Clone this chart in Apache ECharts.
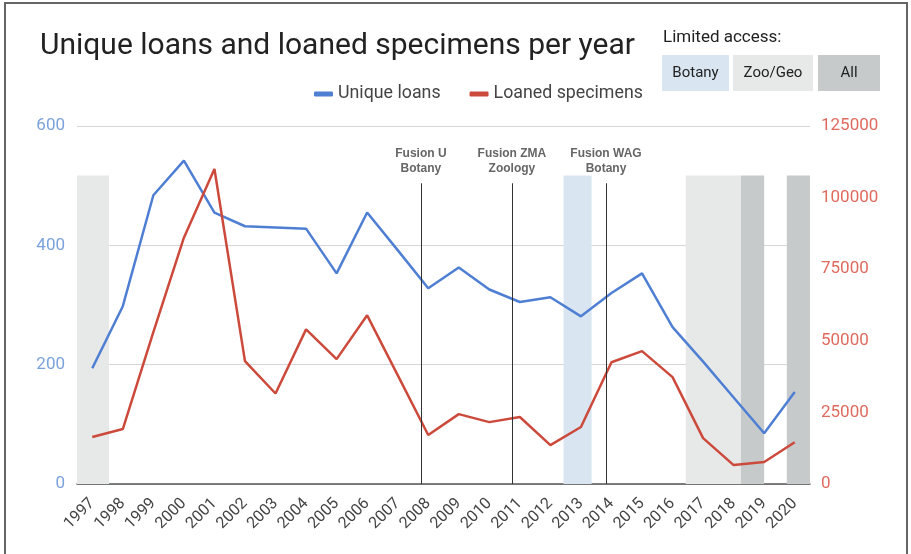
<!DOCTYPE html>
<html>
<head>
<meta charset="utf-8">
<title>Unique loans and loaned specimens per year</title>
<script src="https://cdn.jsdelivr.net/npm/echarts@6/dist/echarts.min.js"></script>
<style>
  html, body { margin: 0; padding: 0; background: #fff; }
  #chart { width: 911px; height: 554px; }
</style>
</head>
<body>
<div id="chart"></div>
<script>
// Yearly figures
const years = ['1997','1998','1999','2000','2001','2002','2003','2004','2005','2006','2007','2008',
               '2009','2010','2011','2012','2013','2014','2015','2016','2017','2018','2019','2020'];
const uniqueLoans = [194, 298, 484, 542, 455, 432, 430, 428, 353, 455, 392, 328,
                     363, 326, 305, 313, 281, 320, 353, 263, 205, 145, 85, 154];
const loanedSpecimens = [16400, 19200, 53000, 86000, 110000, 42900, 31600, 54000, 43600, 58900, 38000, 17100,
                         24400, 21600, 23400, 13600, 19900, 42500, 46400, 37300, 16000, 6600, 7700, 14600];

// Axis scales
const loansAxis = { min: 0, max: 600, interval: 200 };
const specimensAxis = { min: 0, max: 125000, interval: 25000 };

// Periods of limited collection access (fractional years)
const accessKinds = ['Botany', 'Zoo/Geo', 'All'];
const accessColors = { 'Botany': '#d9e6f2', 'Zoo/Geo': '#e7e8e8', 'All': '#c6cacb' };
const accessBands = [
  { kind: 'Zoo/Geo', from: 1996.5, to: 1997.55 },
  { kind: 'Botany', from: 2012.43, to: 2013.35 },
  { kind: 'Zoo/Geo', from: 2016.43, to: 2018.24 },
  { kind: 'All', from: 2018.24, to: 2019.0 },
  { kind: 'All', from: 2019.74, to: 2020.5 }
];
const bandTop = 517;

// Collection fusions
const fusions = [
  { at: 2007.76, label: 'Fusion U\nBotany' },
  { at: 2010.74, label: 'Fusion ZMA\nZoology' },
  { at: 2013.82, label: 'Fusion WAG\nBotany' }
];
const fusionTop = 504;

const blue = '#4f7fd3';
const red = '#cc4a3c';
const font = 'Roboto';

const chart = echarts.init(document.getElementById('chart'), null, { renderer: 'canvas' });

// Access key boxes in the top-right corner
const keyBoxes = [
  { x: 662, w: 67 },
  { x: 733, w: 80 },
  { x: 818, w: 62 }
];
const keyGraphics = [];
accessKinds.forEach((k, i) => {
  const b = keyBoxes[i];
  keyGraphics.push({
    type: 'rect', z: 10,
    shape: { x: b.x, y: 55, width: b.w, height: 36 },
    style: { fill: accessColors[k] }
  });
  keyGraphics.push({
    type: 'text', z: 11,
    x: b.x + b.w / 2, y: 73,
    style: { text: k, fill: '#222', font: '15px ' + font, align: 'center', verticalAlign: 'middle' }
  });
});

const option = {
  animation: false,
  backgroundColor: '#fff',
  textStyle: { fontFamily: font },
  title: {
    text: 'Unique loans and loaned specimens per year',
    left: 35, top: 26,
    textStyle: { fontFamily: font, fontSize: 30, fontWeight: 'normal', color: '#222' }
  },
  legend: {
    data: ['Unique loans', 'Loaned specimens'],
    left: 309, top: 80,
    icon: 'roundRect',
    itemWidth: 19, itemHeight: 5, itemGap: 29,
    textStyle: { fontFamily: font, fontSize: 17.8, color: '#444' }
  },
  grid: { left: 77, right: 101, top: 126, bottom: 70 },
  xAxis: [
    {
      type: 'category',
      data: years,
      boundaryGap: true,
      axisLine: { lineStyle: { color: '#555', width: 1.5 } },
      axisTick: { show: false },
      axisLabel: { interval: 0, rotate: 45, fontFamily: font, fontSize: 16, color: '#444', margin: 17 },
      splitLine: { show: false }
    },
    {
      type: 'value',
      min: 1996.5, max: 2020.5,
      show: false
    }
  ],
  yAxis: [
    {
      type: 'value',
      min: loansAxis.min, max: loansAxis.max, interval: loansAxis.interval,
      axisLine: { show: false }, axisTick: { show: false },
      axisLabel: { fontFamily: font, fontSize: 17, color: '#7ba2dc', margin: 12 },
      splitLine: { lineStyle: { color: '#d6d6d6', width: 1.2 } }
    },
    {
      type: 'value',
      min: specimensAxis.min, max: specimensAxis.max, interval: specimensAxis.interval,
      axisLine: { show: false }, axisTick: { show: false },
      axisLabel: { fontFamily: font, fontSize: 17, color: '#df6a5e', margin: 11, formatter: v => String(v) },
      splitLine: { show: false }
    }
  ],
  graphic: [
    {
      type: 'rect', z: 0, silent: true,
      shape: { x: 5, y: 3, width: 902, height: 570 },
      style: { fill: 'none', stroke: '#666', lineWidth: 2 }
    },
    {
      type: 'text', z: 10,
      x: 663, y: 38,
      style: { text: 'Limited access:', fill: '#222', font: '17px ' + font, verticalAlign: 'middle' }
    }
  ].concat(keyGraphics),
  series: [
    {
      name: 'Access',
      type: 'custom',
      xAxisIndex: 1, yAxisIndex: 0,
      z: 1, silent: true,
      data: accessBands.map(b => [b.from, b.to, bandTop, accessKinds.indexOf(b.kind)]),
      encode: { x: [0, 1], y: 2 },
      renderItem: function (params, api) {
        const p0 = api.coord([api.value(0), 0]);
        const p1 = api.coord([api.value(1), api.value(2)]);
        return {
          type: 'rect',
          shape: { x: p0[0], y: p1[1], width: p1[0] - p0[0], height: p0[1] - p1[1] },
          style: { fill: accessColors[accessKinds[api.value(3)]] }
        };
      },
      markLine: {
        silent: true,
        symbol: 'none',
        lineStyle: { color: '#333', width: 1, type: 'solid' },
        label: {
          show: true, position: 'end', distance: 7,
          fontFamily: 'Liberation Sans', fontWeight: 'bold', fontSize: 12, lineHeight: 15, color: '#666',
          formatter: p => p.data.labelText
        },
        data: fusions.map(f => [
          { coord: [f.at, 0], labelText: f.label },
          { coord: [f.at, fusionTop], labelText: f.label }
        ])
      }
    },
    {
      name: 'Unique loans',
      type: 'line',
      xAxisIndex: 0, yAxisIndex: 0,
      data: uniqueLoans,
      z: 3,
      symbol: 'none',
      lineStyle: { color: blue, width: 2.5 },
      itemStyle: { color: blue }
    },
    {
      name: 'Loaned specimens',
      type: 'line',
      xAxisIndex: 0, yAxisIndex: 1,
      data: loanedSpecimens,
      z: 3,
      symbol: 'none',
      lineStyle: { color: red, width: 2.5 },
      itemStyle: { color: red }
    }
  ]
};

chart.setOption(option);
</script>
</body>
</html>
